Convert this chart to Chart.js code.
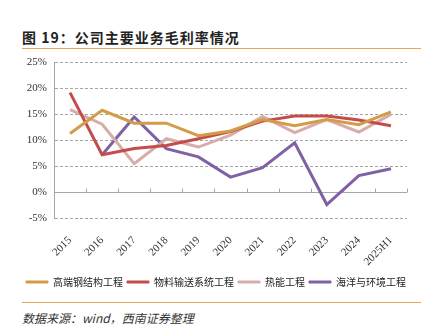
<!DOCTYPE html>
<html>
<head>
<meta charset="utf-8">
<script src="https://cdn.jsdelivr.net/npm/chart.js@4.4.0/dist/chart.umd.min.js"></script>
<style>
  body { margin: 0; width: 432px; height: 332px; background: #fff; position: relative; overflow: hidden; }
  #title { position: absolute; left: 22px; top: 27px; font: bold 14px "Noto Sans CJK SC", sans-serif; color: #222; letter-spacing: 1px; }
  .rule { position: absolute; left: 22px; width: 399px; height: 1px; background: #E3A85A; }
  #source { position: absolute; left: 22px; top: 309px; font: italic 12px "Noto Sans CJK SC", sans-serif; color: #333; }
  #wrap { position: absolute; left: 0; top: 49px; width: 432px; height: 248px; }
</style>
</head>
<body>
<div id="title">图 19：公司主要业务毛利率情况</div>
<div class="rule" style="top:48px"></div>
<div id="wrap"><canvas id="margin-chart"></canvas></div>
<div class="rule" style="top:302px"></div>
<div id="source">数据来源：wind，西南证券整理</div>
<script>
// categories and series (gross margin, %)
var years = ["2015", "2016", "2017", "2018", "2019", "2020", "2021", "2022", "2023", "2024", "2025H1"];
var steelStructure = [11.3, 15.8, 13.3, 13.3, 10.9, 11.8, 14.0, 12.8, 14.0, 13.0, 15.5];
var materialHandling = [19.2, 7.2, 8.4, 9.0, 10.3, 11.7, 13.7, 14.7, 14.7, 13.9, 12.8];
var thermalEnergy = [15.9, 13.1, 5.5, 10.3, 8.7, 11.0, 14.6, 11.5, 14.0, 11.6, 15.0];
var marineEnv = [null, 7.2, 14.5, 8.4, 6.8, 2.9, 4.7, 9.5, -2.4, 3.2, 4.5];
var yTicks = [-5, 0, 5, 10, 15, 20, 25];

// zero line with small tick marks between categories
var zeroLine = {
    id: "zeroLine",
    beforeDatasetsDraw: function (chart) {
        var c = chart.ctx, x = chart.scales.x, y = chart.scales.y;
        var y0 = Math.round(y.getPixelForValue(0)) + 0.5;
        var step = x.getPixelForValue(1) - x.getPixelForValue(0);
        c.save();
        c.strokeStyle = "#A6A6A6";
        c.lineWidth = 1;
        c.beginPath();
        c.moveTo(chart.chartArea.left, y0);
        c.lineTo(chart.chartArea.right, y0);
        for (var i = 0; i < years.length; i++) {
            var px = Math.round(x.getPixelForValue(i) + step / 2) + 0.5;
            c.moveTo(px, y0);
            c.lineTo(px, y0 - 4);
        }
        c.stroke();
        c.restore();
    }
};

var ctx = document.getElementById("margin-chart").getContext("2d");
var marginChart = new Chart(ctx, {
    type: "line",
    data: {
        labels: years,
        datasets: [{
                label: "高端钢结构工程",
                data: steelStructure,
                borderColor: "#D29C48",
                backgroundColor: "#D29C48"
            },
            {
                label: "物料输送系统工程",
                data: materialHandling,
                borderColor: "#C44D4B",
                backgroundColor: "#C44D4B"
            },
            {
                label: "热能工程",
                data: thermalEnergy,
                borderColor: "#D8ADA9",
                backgroundColor: "#D8ADA9"
            },
            {
                label: "海洋与环境工程",
                data: marineEnv,
                borderColor: "#7F62A3",
                backgroundColor: "#7F62A3"
            }
        ]
    },
    options: {
        responsive: true,
        maintainAspectRatio: false,
        animation: false,
        layout: { padding: { top: 10, right: 0, left: 0, bottom: 0 } },
        elements: {
            line: { borderWidth: 3, tension: 0 },
            point: { radius: 0 }
        },
        plugins: {
            legend: {
                position: "bottom",
                labels: {
                    boxWidth: 22,
                    boxHeight: 2,
                    padding: 4,
                    color: "#222",
                    font: { family: "Noto Sans CJK SC", size: 10 },
                    generateLabels: function (chart) {
                        var items = Chart.defaults.plugins.legend.labels.generateLabels(chart);
                        items.forEach(function (it) { it.lineWidth = 1; });
                        return items;
                    }
                }
            },
            tooltip: { enabled: false }
        },
        scales: {
            x: {
                offset: true,
                grid: { display: false },
                border: { display: false },
                ticks: {
                    autoSkip: false,
                    minRotation: 45,
                    maxRotation: 45,
                    padding: 8,
                    color: "#333",
                    font: { family: "Liberation Serif", size: 11 }
                },
                afterFit: function (scale) { scale.height = 55; }
            },
            y: {
                min: -5,
                max: 25,
                afterBuildTicks: function (scale) {
                    scale.ticks = yTicks.map(function (v) { return { value: v }; });
                },
                grid: { color: "#A6A6A6", lineWidth: 1, drawTicks: false },
                border: { display: true, color: "#A6A6A6", dash: [3, 2] },
                ticks: {
                    padding: 7,
                    color: "#333",
                    font: { family: "Liberation Serif", size: 11 },
                    callback: function (v) { return v + "%"; }
                },
                afterFit: function (scale) { scale.width = 54; }
            },
            // empty right-hand space so the plot ends where the reference does
            yPad: {
                position: "right",
                display: true,
                grid: { display: false },
                border: { display: false },
                ticks: { display: false },
                afterFit: function (scale) { scale.width = 25; }
            }
        }
    },
    plugins: [zeroLine]
});
</script>
</body>
</html>
